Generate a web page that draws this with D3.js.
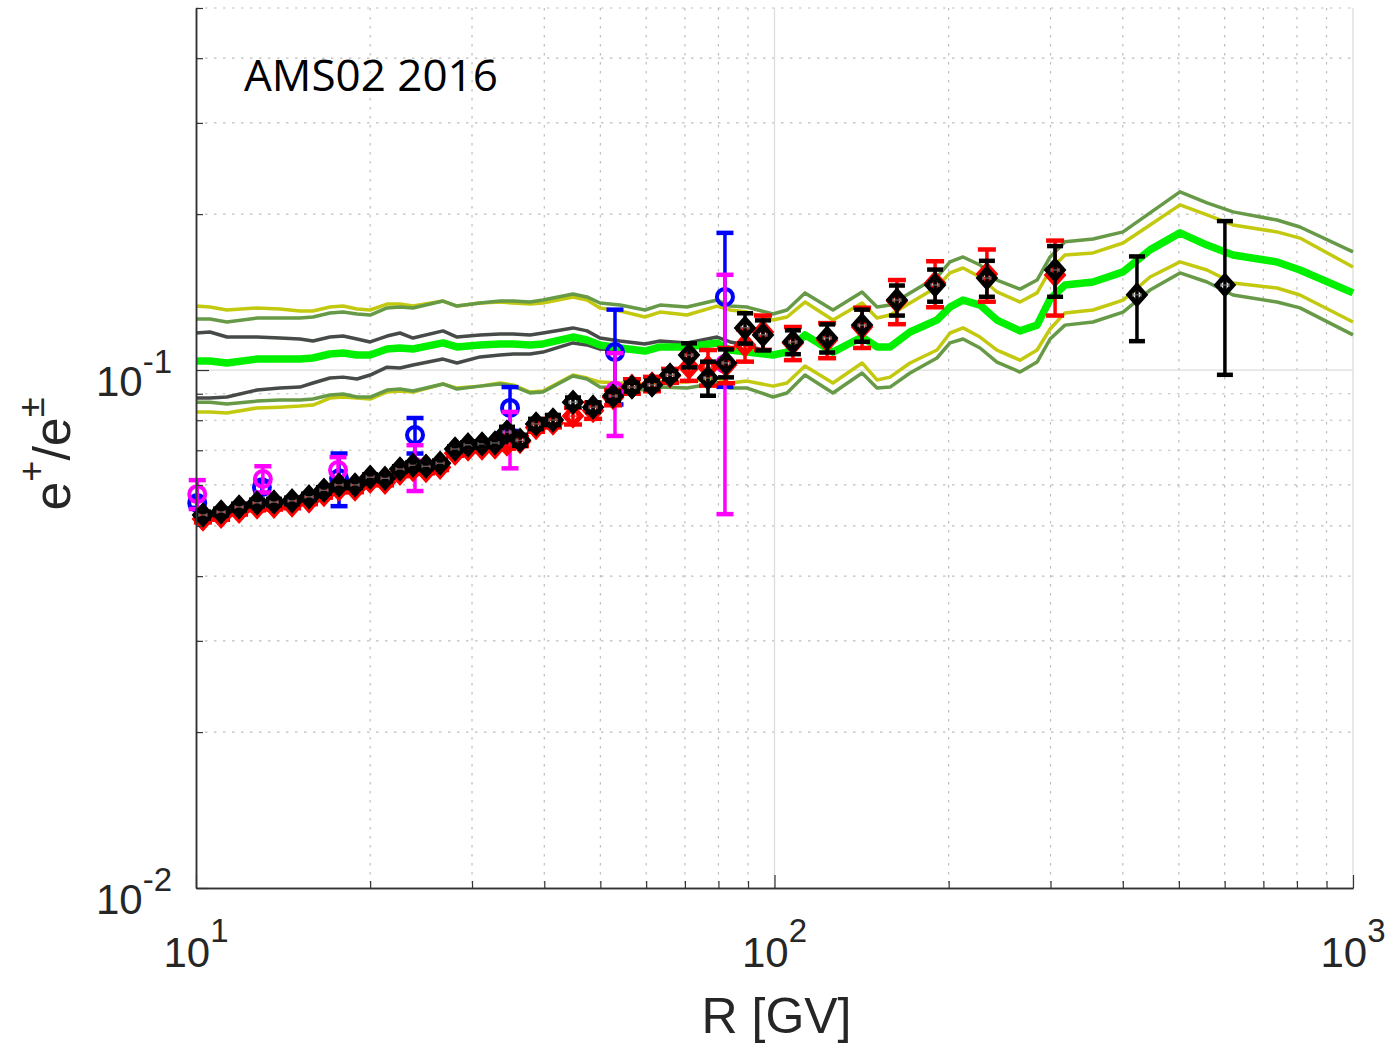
<!DOCTYPE html>
<html>
<head>
<meta charset="utf-8">
<script src="https://cdn.jsdelivr.net/npm/d3@7"></script>
<style>
  body { margin: 0; background: #ffffff; }
  svg { display: block; }
</style>
</head>
<body>
<svg id="chart" width="1397" height="1045"></svg>
<script>
// ---------------- data ----------------
const chartTitle = "AMS02 2016";
const xLabel = "R [GV]";

// model grid (rigidity, GV)
const modelR = [10, 10.57, 11.31, 12.75, 13.97, 15.12, 15.93, 17.04, 17.96, 18.98,
  20.0, 21.39, 22.52, 23.72, 26.73, 28.26, 30.97, 33.54, 35.32, 37.79,
  39.79, 44.84, 47.41, 49.93, 54.07, 59.72, 63.41, 70.60, 79.57, 83.79,
  89.66, 99.4, 105.1, 112.9, 126.2, 141.7, 150.4, 158.4, 171.5, 190.9,
  201.1, 211.8, 226.6, 242.4, 265.7, 284.4, 299.5, 317.8, 355.3, 400.4,
  445.8, 502.3, 559.3, 620.3, 739.0, 809.8, 1000];

const modelCentral = [0.1041,0.1041,0.1032,0.1050,0.1050,0.1050,0.1055,0.1074,0.1079,0.1069,
  0.1069,0.1098,0.1103,0.1098,0.1128,0.1108,0.1118,0.1123,0.1123,0.1118,
  0.1123,0.1158,0.1143,0.1118,0.1103,0.1088,0.1108,0.1108,0.1128,0.1093,
  0.1083,0.1069,0.1083,0.1169,0.1083,0.1158,0.1108,0.1108,0.1184,0.1249,
  0.1323,0.1365,0.1335,0.1249,0.1190,0.1221,0.1371,0.1459,0.1479,0.1547,
  0.1706,0.1840,0.1743,0.1668,0.1617,0.1560,0.1409];

const model1sUpper = [0.1329,0.1323,0.1306,0.1318,0.1312,0.1300,0.1300,0.1323,0.1329,0.1312,
  0.1306,0.1341,0.1341,0.1329,0.1359,0.1329,0.1347,0.1353,0.1347,0.1341,
  0.1347,0.1384,0.1365,0.1318,0.1300,0.1266,0.1294,0.1277,0.1329,0.1306,
  0.1294,0.1249,0.1266,0.1353,0.1249,0.1347,0.1260,0.1277,0.1347,0.1446,
  0.1540,0.1574,0.1512,0.1415,0.1353,0.1409,0.1560,0.1668,0.1683,0.1759,
  0.1906,0.2084,0.1993,0.1906,0.1848,0.1798,0.1581];

const model1sLower = [0.0830,0.0830,0.0826,0.0845,0.0848,0.0852,0.0856,0.0883,0.0887,0.0883,
  0.0879,0.0907,0.0911,0.0907,0.0940,0.0923,0.0931,0.0944,0.0936,0.0907,
  0.0911,0.0978,0.0965,0.0948,0.0944,0.0940,0.0948,0.0948,0.0965,0.0944,
  0.0952,0.0931,0.0944,0.1018,0.0944,0.1032,0.0957,0.0969,0.1032,0.1093,
  0.1179,0.1206,0.1158,0.1093,0.1045,0.1093,0.1200,0.1289,0.1306,0.1365,
  0.1512,0.1617,0.1560,0.1472,0.1440,0.1396,0.1238];

const model2sUpper = [0.1255,0.1255,0.1238,0.1260,0.1260,0.1260,0.1266,0.1289,0.1294,0.1283,
  0.1277,0.1318,0.1323,0.1318,0.1359,0.1329,0.1347,0.1359,0.1359,0.1353,
  0.1365,0.1402,0.1384,0.1347,0.1335,0.1306,0.1335,0.1323,0.1365,0.1329,
  0.1323,0.1283,0.1306,0.1409,0.1306,0.1415,0.1323,0.1335,0.1409,0.1512,
  0.1617,0.1653,0.1595,0.1492,0.1433,0.1492,0.1653,0.1768,0.1791,0.1848,
  0.2011,0.2208,0.2103,0.2020,0.1948,0.1889,0.1691];

const model2sLower = [0.0867,0.0867,0.0860,0.0871,0.0875,0.0875,0.0879,0.0895,0.0899,0.0887,
  0.0887,0.0915,0.0919,0.0911,0.0940,0.0919,0.0931,0.0940,0.0931,0.0903,
  0.0907,0.0974,0.0961,0.0927,0.0923,0.0915,0.0927,0.0923,0.0944,0.0923,
  0.0923,0.0887,0.0903,0.0978,0.0903,0.0987,0.0923,0.0927,0.0987,0.1055,
  0.1128,0.1148,0.1103,0.1036,0.0991,0.1036,0.1148,0.1221,0.1238,0.1294,
  0.1427,0.1540,0.1479,0.1396,0.1353,0.1318,0.1169];

// dark grey band (defined on the first part of the model grid only)
const modelAltUpper = [0.1179,0.1184,0.1158,0.1158,0.1153,0.1148,0.1138,0.1158,0.1163,0.1148,
  0.1133,0.1163,0.1179,0.1153,0.1190,0.1158,0.1169,0.1174,0.1174,0.1169,
  0.1179,0.1206,0.1190,0.1153,0.1138,0.1123,0.1138,0.1128,0.1158,0.1133,
  0.1118,0.1074,0.1083];
const modelAltLower = [0.0883,0.0883,0.0887,0.0915,0.0923,0.0927,0.0944,0.0965,0.0969,0.0961,
  0.0978,0.1013,0.1009,0.1023,0.1050,0.1032,0.1060,0.1069,0.1074,0.1074,
  0.1083,0.1128,0.1118,0.1098,0.1093,0.1083,0.1103,0.1103,0.1123,0.1093,
  0.1083,0.1064,0.1079];

// black diamonds
const blackR = [10.28,11.05,11.87,12.75,13.64,14.66,15.68,16.64,17.67,18.83,
  20.0,21.22,22.52,23.72,24.98,26.42,28.04,29.53,31.22,32.87,
  34.48,36.32,38.71,41.41,44.84,48.57,52.60,56.70,61.42,65.99,
  71.15,76.74,82.46,88.93,95.52,107.6,123.3,141.7,162.8,189.5,
  232.9,305.5,423.2,600.6];
const blackVal = [0.0525,0.0532,0.0544,0.0554,0.0556,0.0559,0.0569,0.0586,0.0600,0.0600,
  0.0621,0.0618,0.0644,0.0655,0.0652,0.0661,0.0704,0.0717,0.0720,0.0723,
  0.0759,0.0732,0.0787,0.0801,0.0867,0.0848,0.0891,0.0927,0.0936,0.0978,
  0.1069,0.0965,0.1032,0.1206,0.1169,0.1133,0.1153,0.1221,0.1365,0.1459,
  0.1505,0.1560,0.1397,0.1459];
const blackErr = [0.0008,0.0008,0.0008,0.0008,0.0008,0.0008,0.0008,0.0008,0.0008,0.0008,
  0.0008,0.0008,0.0008,0.0008,0.0008,0.0008,0.0008,0.0008,0.0008,0.0008,
  0.0018,0.0018,0.0018,0.0018,0.0018,0.0018,0.0018,0.0018,0.0018,0.0018,
  0.0057,0.0073,0.0064,0.0081,0.0078,0.0060,0.0072,0.0087,0.0091,0.0104,
  0.0120,0.0175,0.0260,0.0480];

// red diamonds
const redR = [10.28,11.05,11.87,12.75,13.64,14.66,15.68,16.64,17.67,18.83,
  20.0,21.22,22.52,23.72,24.98,26.42,28.04,29.53,31.22,32.87,
  34.48,36.32,38.71,41.41,44.84,48.57,52.60,56.70,61.42,65.99,
  71.15,76.74,82.46,88.93,95.52,107.6,123.3,141.7,162.8,189.5,
  232.9,305.5];
const redVal = [0.0516,0.0522,0.0534,0.0544,0.0546,0.0549,0.0559,0.0575,0.0589,0.0589,
  0.0610,0.0607,0.0632,0.0643,0.0640,0.0649,0.0691,0.0704,0.0707,0.0710,
  0.0720,0.0728,0.0775,0.0790,0.0815,0.0835,0.0885,0.0930,0.0940,0.0975,
  0.1013,0.1013,0.1023,0.1118,0.1184,0.1128,0.1143,0.1211,0.1359,0.1472,
  0.1532,0.1526];
const redErr = [0.0008,0.0008,0.0008,0.0008,0.0008,0.0008,0.0008,0.0008,0.0008,0.0008,
  0.0008,0.0008,0.0008,0.0008,0.0008,0.0008,0.0008,0.0008,0.0008,0.0008,
  0.0015,0.0015,0.0015,0.0015,0.0030,0.0030,0.0030,0.0030,0.0030,0.0030,
  0.0060,0.0080,0.0080,0.0080,0.0090,0.0083,0.0089,0.0108,0.0133,0.0150,
  0.0177,0.0252];

// blue circles
const blueR = [10.05, 13.0, 17.67, 23.91, 34.90, 53.0, 82.1];
const blueVal = [0.0554, 0.0594, 0.0618, 0.0749, 0.0845, 0.1083, 0.1384];
const blueErr = [0.0012, 0.0015, 0.0072, 0.0059, 0.0082, 0.0225, 0.0456];

// magenta circles
const magentaR = [10.05, 13.05, 17.6, 23.91, 34.90, 53.0, 82.1];
const magentaVal = [0.0576, 0.0616, 0.0641, 0.0650, 0.0738, 0.0912, 0.1027];
const magentaErr = [0.0037, 0.0036, 0.0038, 0.0066, 0.0092, 0.0166, 0.0500];

// axes
const xDomain = [10, 1000];
const yDomain = [0.01, 0.5];

// ---------------- drawing ----------------
const svg = d3.select("#chart");
const L = 196, Rt = 1353, T = 8, B = 888;
const x = d3.scaleLog().domain(xDomain).range([L, Rt]);
const y = d3.scaleLog().domain(yDomain).range([B, T]);

const isMajor = v => Math.abs(Math.log10(v) - Math.round(Math.log10(v))) < 1e-9;
const xTicks = x.ticks();
const yTicks = y.ticks();
const xMinor = xTicks.filter(v => !isMajor(v));
const xMajor = xTicks.filter(isMajor);
const yMinor = yTicks.filter(v => !isMajor(v));
const yMajor = yTicks.filter(isMajor);

// grid
const grid = svg.append("g");
grid.selectAll(".gxm").data(xMinor).join("line")
  .attr("x1", d => x(d)).attr("x2", d => x(d)).attr("y1", T).attr("y2", B)
  .attr("stroke", "#bdbdbd").attr("stroke-width", 1.2).attr("stroke-dasharray", "2.5,6.5");
grid.selectAll(".gym").data(yMinor).join("line")
  .attr("y1", d => y(d)).attr("y2", d => y(d)).attr("x1", L).attr("x2", Rt)
  .attr("stroke", "#bdbdbd").attr("stroke-width", 1.2).attr("stroke-dasharray", "2.5,6.5");
grid.selectAll(".gxM").data(xMajor.filter(d => d > xDomain[0])).join("line")
  .attr("x1", d => x(d)).attr("x2", d => x(d)).attr("y1", T).attr("y2", B)
  .attr("stroke", "#dcdcdc").attr("stroke-width", 1.3);
grid.selectAll(".gyM").data(yMajor.filter(d => d > yDomain[0])).join("line")
  .attr("y1", d => y(d)).attr("y2", d => y(d)).attr("x1", L).attr("x2", Rt)
  .attr("stroke", "#dcdcdc").attr("stroke-width", 1.3);

// model lines
const lineGen = d3.line().x((d, i) => x(modelR[i])).y(d => y(d));
const models = svg.append("g").attr("fill", "none").attr("stroke-linejoin", "round");
models.append("path").attr("d", lineGen(model1sUpper)).attr("stroke", "#c3c90e").attr("stroke-width", 3.5);
models.append("path").attr("d", lineGen(model1sLower)).attr("stroke", "#c3c90e").attr("stroke-width", 3.5);
models.append("path").attr("d", lineGen(model2sUpper)).attr("stroke", "#679a47").attr("stroke-width", 3.5);
models.append("path").attr("d", lineGen(model2sLower)).attr("stroke", "#679a47").attr("stroke-width", 3.5);
models.append("path").attr("d", lineGen(modelAltUpper)).attr("stroke", "#474b47").attr("stroke-width", 3.5);
models.append("path").attr("d", lineGen(modelAltLower)).attr("stroke", "#474b47").attr("stroke-width", 3.5);
models.append("path").attr("d", lineGen(modelCentral)).attr("stroke", "#00f000").attr("stroke-width", 7.5);

// error-bar series
function drawSeries(Rs, vals, errs, o) {
  const data = Rs.map((r, i) => ({ r, v: vals[i], e: errs[i] }));
  const g = svg.append("g");
  const bars = g.selectAll("g").data(data).join("g");
  bars.append("line")
    .attr("x1", d => x(d.r)).attr("x2", d => x(d.r))
    .attr("y1", d => y(d.v + d.e)).attr("y2", d => y(d.v - d.e))
    .attr("stroke", o.color).attr("stroke-width", 3.5);
  [1, -1].forEach(s => {
    bars.append("line")
      .attr("x1", d => x(d.r) - o.cap).attr("x2", d => x(d.r) + o.cap)
      .attr("y1", d => y(d.v + s * d.e)).attr("y2", d => y(d.v + s * d.e))
      .attr("stroke", o.color).attr("stroke-width", 4.5);
  });
  if (o.shape === "diamond") {
    bars.append("path")
      .attr("d", "M0,-9L8,0L0,9L-8,0Z")
      .attr("transform", d => `translate(${x(d.r)},${y(d.v)})`)
      .attr("fill", "none").attr("stroke", o.color).attr("stroke-width", 5)
      .attr("stroke-linejoin", "miter");
    // small horizontal (bin) bars inside the markers
    bars.append("path")
      .attr("d", d => {
        const cx = x(d.r), cy = y(d.v);
        return `M${cx - 4},${cy}H${cx + 4}M${cx - 4},${cy - 2}V${cy + 2}M${cx + 4},${cy - 2}V${cy + 2}`;
      })
      .attr("fill", "none").attr("stroke", o.inner).attr("stroke-width", 1);
  } else {
    bars.append("circle")
      .attr("cx", d => x(d.r)).attr("cy", d => y(d.v)).attr("r", 8)
      .attr("fill", "none").attr("stroke", o.color).attr("stroke-width", 4);
  }
}
drawSeries(blueR, blueVal, blueErr, { color: "#0000ff", cap: 8.5, shape: "circle" });
drawSeries(magentaR, magentaVal, magentaErr, { color: "#ff00ff", cap: 8.5, shape: "circle" });
drawSeries(redR, redVal, redErr, { color: "#ff0000", cap: 9, shape: "diamond", inner: "#ff0000" });
drawSeries(blackR, blackVal, blackErr, { color: "#000000", cap: 8, shape: "diamond", inner: "#777777" });

// axes (inward ticks, no labels from the generator)
const axCol = "#333333";
function styleAxis(g) {
  g.selectAll("path.domain").attr("stroke", axCol).attr("stroke-width", 1.5);
  g.selectAll(".tick line").attr("stroke", axCol).attr("stroke-width", 1.2);
  g.selectAll(".tick text").remove();
}
svg.append("g").attr("transform", `translate(0,${B})`)
  .call(d3.axisBottom(x).tickValues(xMinor).tickSizeInner(-7).tickSizeOuter(0).tickFormat(""))
  .call(styleAxis);
svg.append("g").attr("transform", `translate(0,${B})`)
  .call(d3.axisBottom(x).tickValues(xMajor).tickSizeInner(-13).tickSizeOuter(0).tickFormat(""))
  .call(styleAxis);
svg.append("g").attr("transform", `translate(${L},0)`)
  .call(d3.axisLeft(y).tickValues(yMinor).tickSizeInner(-7).tickSizeOuter(0).tickFormat(""))
  .call(styleAxis);
svg.append("g").attr("transform", `translate(${L},0)`)
  .call(d3.axisLeft(y).tickValues(yMajor).tickSizeInner(-13).tickSizeOuter(0).tickFormat(""))
  .call(styleAxis);

// tick labels with superscripts
const font = "'Liberation Sans', Arial, Helvetica, sans-serif";
const xl = svg.append("g").attr("font-family", font).attr("fill", "#262626");
xMajor.forEach(v => {
  const t = xl.append("text").attr("x", x(v)).attr("y", 967).attr("text-anchor", "middle").attr("font-size", 42);
  t.append("tspan").text("10");
  t.append("tspan").attr("dy", -25).attr("font-size", 33).text(String(Math.round(Math.log10(v))));
});
yMajor.forEach(v => {
  const t = xl.append("text").attr("x", 172).attr("y", y(v) + 26).attr("text-anchor", "end").attr("font-size", 42);
  t.append("tspan").text("10");
  t.append("tspan").attr("dy", -23).attr("font-size", 33).text(String(Math.round(Math.log10(v))));
});

// axis titles
svg.append("text").attr("x", (L + Rt) / 2 + 2).attr("y", 1033)
  .attr("text-anchor", "middle").attr("font-family", font).attr("font-size", 50)
  .attr("fill", "#262626").text(xLabel);
const yt = svg.append("text").attr("transform", "translate(70,454) rotate(-90)")
  .attr("text-anchor", "middle").attr("font-family", font).attr("font-size", 52).attr("fill", "#262626");
yt.append("tspan").text("e");
yt.append("tspan").attr("dy", -26).attr("font-size", 36).text("+");
yt.append("tspan").attr("dy", 26).text("/e");
yt.append("tspan").attr("dy", -26).attr("font-size", 36).text("\u00b1");

// in-plot title
svg.append("text").attr("x", 244).attr("y", 91)
  .attr("font-family", "'Open Sans', 'Noto Sans', sans-serif").attr("font-size", 44)
  .attr("fill", "#000").text(chartTitle);
</script>
</body>
</html>
